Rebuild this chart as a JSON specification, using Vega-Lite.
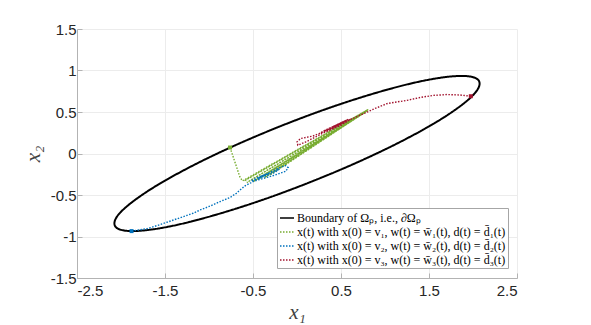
{
  "$schema": "https://vega.github.io/schema/vega-lite/v6.json",
  "width": 440,
  "height": 249,
  "autosize": "none",
  "padding": {"left": 77, "top": 29, "right": 74, "bottom": 47},
  "background": "white",
  "config": {
    "view": {"stroke": null},
    "axis": {
      "domainColor": "#b3b3b3",
      "tickColor": "#b3b3b3",
      "gridColor": "#ececec",
      "gridWidth": 1,
      "domainWidth": 1,
      "tickSize": -5,
      "labelFont": "Liberation Sans",
      "labelFontSize": 15,
      "labelColor": "#262626",
      "titleFont": "Liberation Serif",
      "titleFontStyle": "italic",
      "titleFontWeight": "normal",
      "titleFontSize": 21,
      "titleColor": "#404040"
    }
  },
  "data": {
    "values": [
      {"s": "b", "i": 0, "x": 2.075, "y": 0.842},
      {"s": "b", "i": 1, "x": 2.044, "y": 0.9},
      {"s": "b", "i": 2, "x": 1.95, "y": 0.93},
      {"s": "b", "i": 3, "x": 1.797, "y": 0.932},
      {"s": "b", "i": 4, "x": 1.59, "y": 0.906},
      {"s": "b", "i": 5, "x": 1.334, "y": 0.853},
      {"s": "b", "i": 6, "x": 1.038, "y": 0.773},
      {"s": "b", "i": 7, "x": 0.71, "y": 0.67},
      {"s": "b", "i": 8, "x": 0.36, "y": 0.547},
      {"s": "b", "i": 9, "x": 0, "y": 0.407},
      {"s": "b", "i": 10, "x": -0.36, "y": 0.255},
      {"s": "b", "i": 11, "x": -0.71, "y": 0.095},
      {"s": "b", "i": 12, "x": -1.038, "y": -0.068},
      {"s": "b", "i": 13, "x": -1.334, "y": -0.229},
      {"s": "b", "i": 14, "x": -1.59, "y": -0.383},
      {"s": "b", "i": 15, "x": -1.797, "y": -0.526},
      {"s": "b", "i": 16, "x": -1.95, "y": -0.652},
      {"s": "b", "i": 17, "x": -2.044, "y": -0.758},
      {"s": "b", "i": 18, "x": -2.075, "y": -0.842},
      {"s": "b", "i": 19, "x": -2.044, "y": -0.9},
      {"s": "b", "i": 20, "x": -1.95, "y": -0.93},
      {"s": "b", "i": 21, "x": -1.797, "y": -0.932},
      {"s": "b", "i": 22, "x": -1.59, "y": -0.906},
      {"s": "b", "i": 23, "x": -1.334, "y": -0.853},
      {"s": "b", "i": 24, "x": -1.038, "y": -0.773},
      {"s": "b", "i": 25, "x": -0.71, "y": -0.67},
      {"s": "b", "i": 26, "x": -0.36, "y": -0.547},
      {"s": "b", "i": 27, "x": 0, "y": -0.407},
      {"s": "b", "i": 28, "x": 0.36, "y": -0.255},
      {"s": "b", "i": 29, "x": 0.71, "y": -0.095},
      {"s": "b", "i": 30, "x": 1.038, "y": 0.068},
      {"s": "b", "i": 31, "x": 1.334, "y": 0.229},
      {"s": "b", "i": 32, "x": 1.59, "y": 0.383},
      {"s": "b", "i": 33, "x": 1.797, "y": 0.526},
      {"s": "b", "i": 34, "x": 1.95, "y": 0.652},
      {"s": "b", "i": 35, "x": 2.044, "y": 0.758},

      {"s": "g", "i": 0, "x": -0.761, "y": 0.072},
      {"s": "g", "i": 1, "x": -0.7, "y": -0.12},
      {"s": "g", "i": 2, "x": -0.65, "y": -0.28},
      {"s": "g", "i": 3, "x": -0.62, "y": -0.33},
      {"s": "g", "i": 4, "x": 0.81, "y": 0.53},
      {"s": "g", "i": 5, "x": -0.6, "y": -0.33},
      {"s": "g", "i": 6, "x": 0.8, "y": 0.525},
      {"s": "g", "i": 7, "x": -0.57, "y": -0.35},
      {"s": "g", "i": 8, "x": 0.8, "y": 0.52},
      {"s": "g", "i": 9, "x": -0.5, "y": -0.34},
      {"s": "g", "i": 10, "x": 0.79, "y": 0.51},
      {"s": "g", "i": 11, "x": -0.44, "y": -0.31},
      {"s": "g", "i": 12, "x": 0.78, "y": 0.5},
      {"s": "g", "i": 13, "x": -0.37, "y": -0.29},
      {"s": "g", "i": 14, "x": 0.79, "y": 0.51},
      {"s": "g", "i": 15, "x": -0.31, "y": -0.26},
      {"s": "g", "i": 16, "x": 0.77, "y": 0.5},

      {"s": "u", "i": 0, "x": -1.88, "y": -0.935},
      {"s": "u", "i": 1, "x": -1.7, "y": -0.905},
      {"s": "u", "i": 2, "x": -1.55, "y": -0.855},
      {"s": "u", "i": 3, "x": -1.4, "y": -0.8},
      {"s": "u", "i": 4, "x": -1.29, "y": -0.76},
      {"s": "u", "i": 5, "x": -1.18, "y": -0.72},
      {"s": "u", "i": 6, "x": -1.1, "y": -0.68},
      {"s": "u", "i": 7, "x": -0.98, "y": -0.63},
      {"s": "u", "i": 8, "x": -0.875, "y": -0.58},
      {"s": "u", "i": 9, "x": -0.76, "y": -0.53},
      {"s": "u", "i": 10, "x": -0.69, "y": -0.48},
      {"s": "u", "i": 11, "x": -0.648, "y": -0.44},
      {"s": "u", "i": 12, "x": -0.59, "y": -0.39},
      {"s": "u", "i": 13, "x": -0.52, "y": -0.35},
      {"s": "u", "i": 14, "x": -0.44, "y": -0.3},
      {"s": "u", "i": 15, "x": -0.33, "y": -0.24},
      {"s": "u", "i": 16, "x": -0.22, "y": -0.18},
      {"s": "u", "i": 17, "x": -0.13, "y": -0.145},
      {"s": "u", "i": 18, "x": -0.1, "y": -0.17},
      {"s": "u", "i": 19, "x": -0.13, "y": -0.215},
      {"s": "u", "i": 20, "x": -0.25, "y": -0.26},
      {"s": "u", "i": 21, "x": -0.38, "y": -0.3},
      {"s": "u", "i": 22, "x": -0.48, "y": -0.33},
      {"s": "u", "i": 23, "x": -0.52, "y": -0.33},
      {"s": "u", "i": 24, "x": -0.45, "y": -0.29},
      {"s": "u", "i": 25, "x": -0.35, "y": -0.25},
      {"s": "u", "i": 26, "x": -0.25, "y": -0.21},
      {"s": "u", "i": 27, "x": -0.2, "y": -0.19},
      {"s": "u", "i": 28, "x": -0.26, "y": -0.23},
      {"s": "u", "i": 29, "x": -0.36, "y": -0.27},
      {"s": "u", "i": 30, "x": -0.44, "y": -0.3},
      {"s": "u", "i": 31, "x": -0.4, "y": -0.27},
      {"s": "u", "i": 32, "x": -0.32, "y": -0.24},
      {"s": "u", "i": 33, "x": -0.36, "y": -0.26},

      {"s": "r", "i": 0, "x": 1.975, "y": 0.69},
      {"s": "r", "i": 1, "x": 1.85, "y": 0.705},
      {"s": "r", "i": 2, "x": 1.7, "y": 0.71},
      {"s": "r", "i": 3, "x": 1.55, "y": 0.7},
      {"s": "r", "i": 4, "x": 1.4, "y": 0.675},
      {"s": "r", "i": 5, "x": 1.25, "y": 0.64},
      {"s": "r", "i": 6, "x": 1.1, "y": 0.615},
      {"s": "r", "i": 7, "x": 1.02, "y": 0.6},
      {"s": "r", "i": 8, "x": 0.95, "y": 0.57},
      {"s": "r", "i": 9, "x": 0.88, "y": 0.54},
      {"s": "r", "i": 10, "x": 0.82, "y": 0.51},
      {"s": "r", "i": 11, "x": 0.65, "y": 0.43},
      {"s": "r", "i": 12, "x": 0.45, "y": 0.33},
      {"s": "r", "i": 13, "x": 0.25, "y": 0.22},
      {"s": "r", "i": 14, "x": 0.1, "y": 0.14},
      {"s": "r", "i": 15, "x": 0.01, "y": 0.1},
      {"s": "r", "i": 16, "x": 0.0, "y": 0.14},
      {"s": "r", "i": 17, "x": 0.04, "y": 0.18},
      {"s": "r", "i": 18, "x": 0.18, "y": 0.21},
      {"s": "r", "i": 19, "x": 0.3, "y": 0.26},
      {"s": "r", "i": 20, "x": 0.42, "y": 0.31},
      {"s": "r", "i": 21, "x": 0.52, "y": 0.37},
      {"s": "r", "i": 22, "x": 0.62, "y": 0.42},
      {"s": "r", "i": 23, "x": 0.5, "y": 0.34},
      {"s": "r", "i": 24, "x": 0.35, "y": 0.27},
      {"s": "r", "i": 25, "x": 0.25, "y": 0.24},
      {"s": "r", "i": 26, "x": 0.38, "y": 0.31},
      {"s": "r", "i": 27, "x": 0.55, "y": 0.39},
      {"s": "r", "i": 28, "x": 0.45, "y": 0.33},
      {"s": "r", "i": 29, "x": 0.3, "y": 0.27},
      {"s": "r", "i": 30, "x": 0.42, "y": 0.33},
      {"s": "r", "i": 31, "x": 0.58, "y": 0.41},
      {"s": "r", "i": 32, "x": 0.48, "y": 0.36},
      {"s": "r", "i": 33, "x": 0.4, "y": 0.32}
    ]
  },
  "encoding": {
    "x": {
      "field": "x",
      "type": "quantitative",
      "scale": {"domain": [-2.5, 2.5], "nice": false, "zero": false},
      "axis": {
        "values": [-2.5, -1.5, -0.5, 0.5, 1.5, 2.5],
        "labelExpr": "toString(datum.value)",
        "labelPadding": 10,
        "title": "x₁",
        "titlePadding": 3
      }
    },
    "y": {
      "field": "y",
      "type": "quantitative",
      "scale": {"domain": [-1.5, 1.5], "nice": false, "zero": false},
      "axis": {
        "values": [-1.5, -1, -0.5, 0, 0.5, 1, 1.5],
        "labelExpr": "toString(datum.value)",
        "labelPadding": 6,
        "title": "x₂",
        "titlePadding": 7
      }
    },
    "order": {"field": "i", "type": "quantitative"}
  },
  "layer": [
    {
      "transform": [{"filter": "datum.s == 'b'"}],
      "mark": {"type": "line", "interpolate": "cardinal-closed", "strokeWidth": 2},
      "encoding": {
        "color": {
          "field": "s", "type": "nominal",
          "scale": {"domain": ["b", "g", "u", "r"], "range": ["#000000", "#77AC30", "#0072BD", "#A2142F"]},
          "legend": {
            "title": null, "orient": "none", "legendX": 200, "legendY": 179,
            "fillColor": "white", "strokeColor": "#a6a6a6", "padding": 2, "rowPadding": 0,
            "symbolType": "stroke", "symbolSize": 196, "symbolStrokeWidth": 1.5,
            "labelFont": "Liberation Serif", "labelFontSize": 12, "labelColor": "#000000",
            "labelOffset": 2, "labelLimit": 400,
            "labelExpr": "datum.value == 'b' ? 'Boundary of Ωₚ, i.e., ∂Ωₚ' : datum.value == 'g' ? 'x(t) with x(0) = v₁, w(t) = w̄₁(t), d(t) = d̄₁(t)' : datum.value == 'u' ? 'x(t) with x(0) = v₂, w(t) = w̄₂(t), d(t) = d̄₂(t)' : 'x(t) with x(0) = v₃, w(t) = w̄₃(t), d(t) = d̄₃(t)'"
          }
        },
        "strokeDash": {
          "field": "s", "type": "nominal",
          "scale": {"domain": ["b", "g", "u", "r"], "range": [[1, 0], [1.5, 1.5], [1.5, 1.5], [1.5, 1.5]]},
          "legend": {
            "title": null, "orient": "none", "legendX": 200, "legendY": 179,
            "fillColor": "white", "strokeColor": "#a6a6a6", "padding": 2, "rowPadding": 0,
            "symbolType": "stroke", "symbolSize": 196, "symbolStrokeWidth": 1.5,
            "labelFont": "Liberation Serif", "labelFontSize": 12, "labelColor": "#000000",
            "labelOffset": 2, "labelLimit": 400,
            "labelExpr": "datum.value == 'b' ? 'Boundary of Ωₚ, i.e., ∂Ωₚ' : datum.value == 'g' ? 'x(t) with x(0) = v₁, w(t) = w̄₁(t), d(t) = d̄₁(t)' : datum.value == 'u' ? 'x(t) with x(0) = v₂, w(t) = w̄₂(t), d(t) = d̄₂(t)' : 'x(t) with x(0) = v₃, w(t) = w̄₃(t), d(t) = d̄₃(t)'"
          }
        }
      }
    },
    {
      "transform": [{"filter": "datum.s != 'b'"}],
      "mark": {"type": "line", "strokeWidth": 1.4},
      "encoding": {
        "detail": {"field": "s", "type": "nominal"},
        "color": {"field": "s", "type": "nominal"},
        "strokeDash": {"field": "s", "type": "nominal"}
      }
    },
    {
      "transform": [{"filter": "datum.s == 'g' && datum.i == 0"}],
      "mark": {"type": "square", "size": 16, "color": "#77AC30", "opacity": 1}
    },
    {
      "transform": [{"filter": "datum.s == 'u' && datum.i == 0"}],
      "mark": {"type": "square", "size": 16, "color": "#0072BD", "opacity": 1}
    },
    {
      "transform": [{"filter": "datum.s == 'r' && datum.i == 0"}],
      "mark": {"type": "square", "size": 16, "color": "#A2142F", "opacity": 1}
    }
  ]
}
